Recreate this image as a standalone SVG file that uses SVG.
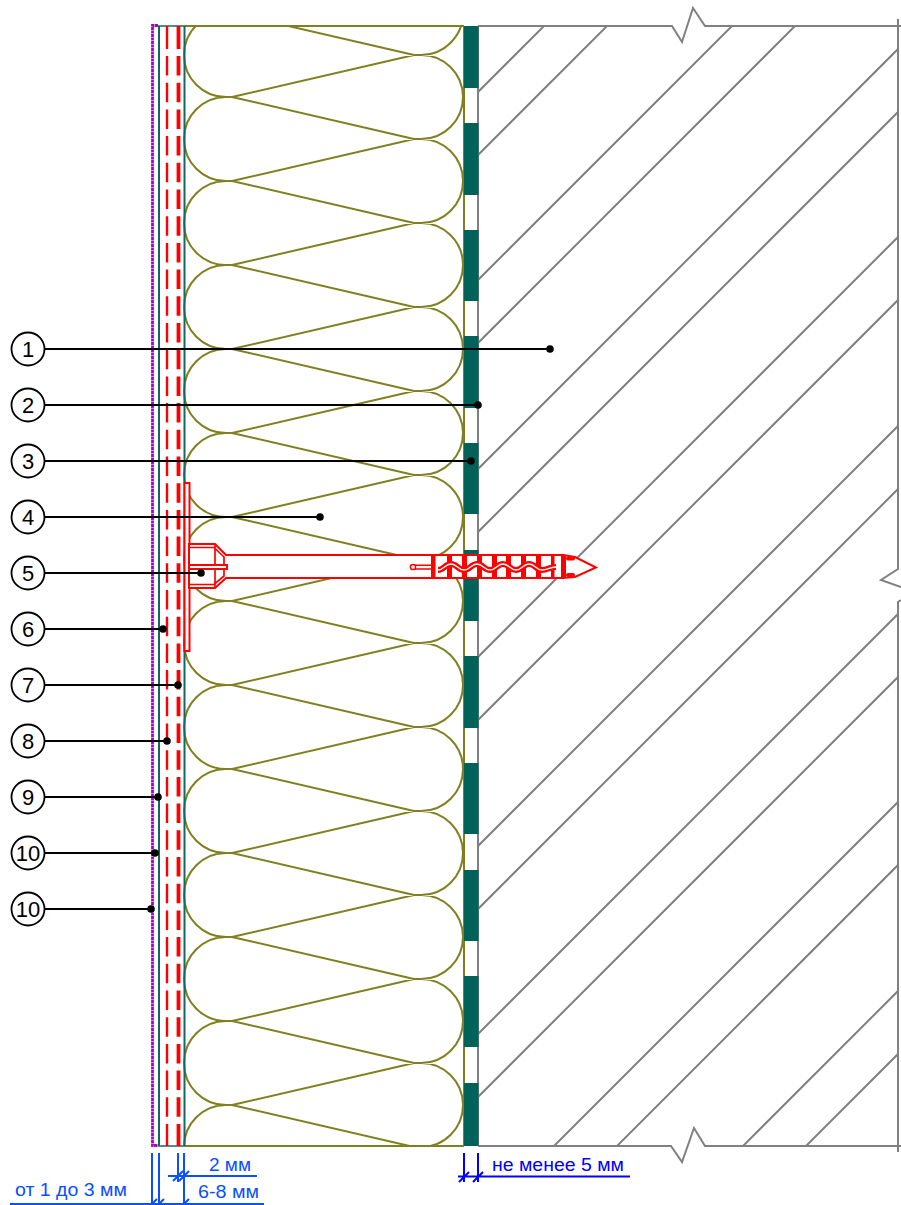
<svg xmlns="http://www.w3.org/2000/svg" width="901" height="1205" viewBox="0 0 901 1205">
<style>
text{font-family:"Liberation Sans",Arial,sans-serif}
.g{fill:none;stroke:#808080;stroke-width:2}
.o{fill:none;stroke:#808020;stroke-width:2}
.t{fill:none;stroke:#106a62;stroke-width:2}
.r{fill:#fff;stroke:#ff0000;stroke-width:2}
.rf{fill:#ff0000}
.ld{stroke:#000;stroke-width:2;fill:none}
.dot{fill:#000}
.c{fill:#fff;stroke:#000;stroke-width:1.800}
.n{font-size:22px;text-anchor:middle;fill:#000}
.b1{stroke:#0a50ff;stroke-width:2;fill:none}
.b2{stroke:#0000ff;stroke-width:2;fill:none}
.tb1{font-size:18px;fill:#0a50ff}
.tb2{font-size:18px;fill:#0000ff}
.bd{fill:#00635a}
</style>
<defs>
<clipPath id="ci"><rect x="180" y="26" width="284" height="1120"/></clipPath>
<clipPath id="ch"><rect x="478" y="26" width="420" height="1120"/></clipPath>
</defs>

<g id="hatch" clip-path="url(#ch)" class="g">
<path d="M570 0L470 100M633 0L470 163M758 0L470 288M821 0L470 351M947 0L470 477M1010 0L470 540M1135 0L470 665M1198 0L470 728M1324 0L470 854M1387 0L470 917M1512 0L470 1042M1575 0L470 1105M1700 0L470 1230M1763 0L470 1293M1889 0L600 1289M1952 0L663 1289"/>
</g>
<g id="wall" class="g">
<path d="M478 26H672L682 42L693 8L705 26H901"/>
<path d="M478 1146H671L682 1162L694 1128L705 1146H901"/>
<path d="M898 19V569L881 580L901 587"/>
<path d="M901 600L898 602V1152"/>
<path d="M478 26V1146"/>
</g>

<g id="insulation">
<g clip-path="url(#ci)">
<path class="o" d="
M232 13H226A42 42 0 0 0 226 97H232L414 55H421A42 42 0 0 0 421 -29H414L232 13L414 55
M232 97H226A42 42 0 0 0 226 181H232L414 139H421A42 42 0 0 0 421 55H414L232 97L414 139
M232 181H226A42 42 0 0 0 226 265H232L414 223H421A42 42 0 0 0 421 139H414L232 181L414 223
M232 265H226A42 42 0 0 0 226 349H232L414 307H421A42 42 0 0 0 421 223H414L232 265L414 307
M232 349H226A42 42 0 0 0 226 433H232L414 391H421A42 42 0 0 0 421 307H414L232 349L414 391
M232 433H226A42 42 0 0 0 226 517H232L414 475H421A42 42 0 0 0 421 391H414L232 433L414 475
M232 517H226A42 42 0 0 0 226 601H232L414 559H421A42 42 0 0 0 421 475H414L232 517L414 559
M232 601H226A42 42 0 0 0 226 685H232L414 643H421A42 42 0 0 0 421 559H414L232 601L414 643
M232 685H226A42 42 0 0 0 226 769H232L414 727H421A42 42 0 0 0 421 643H414L232 685L414 727
M232 769H226A42 42 0 0 0 226 853H232L414 811H421A42 42 0 0 0 421 727H414L232 769L414 811
M232 853H226A42 42 0 0 0 226 937H232L414 895H421A42 42 0 0 0 421 811H414L232 853L414 895
M232 937H226A42 42 0 0 0 226 1021H232L414 979H421A42 42 0 0 0 421 895H414L232 937L414 979
M232 1021H226A42 42 0 0 0 226 1105H232L414 1063H421A42 42 0 0 0 421 979H414L232 1021L414 1063
M232 1105H226A42 42 0 0 0 226 1189H232L414 1147H421A42 42 0 0 0 421 1063H414L232 1105L414 1147"/>
</g>
<path class="o" d="M184 26H464M184 1146H464M464 26V1146"/>
</g>

<g id="air-gap-bands" class="bd">
<rect x="464" y="26" width="14.500" height="62"/>
<rect x="464" y="123" width="14.500" height="72"/>
<rect x="464" y="230" width="14.500" height="71"/>
<rect x="464" y="336" width="14.500" height="72"/>
<rect x="464" y="443" width="14.500" height="71"/>
<rect x="464" y="550" width="14.500" height="71"/>
<rect x="464" y="656" width="14.500" height="72"/>
<rect x="464" y="763" width="14.500" height="71"/>
<rect x="464" y="870" width="14.500" height="71"/>
<rect x="464" y="976" width="14.500" height="71"/>
<rect x="464" y="1083" width="14.500" height="63"/>
</g>

<g id="layers">
<path d="M158 26H184M158 1146H184" style="fill:none;stroke:#4f8f8a;stroke-width:2"/>
<path class="t" d="M159 26V1146M184.500 26V1146"/>
<path d="M158 25.500H152.500V1145.500H158" style="fill:none;stroke:#b000c4;stroke-width:2.800;stroke-dasharray:3 .5"/>
<path d="M167 26V49M167 1124V1146" style="fill:none;stroke:#ff0000;stroke-width:2.400"/>
<path d="M167 56V1118" style="fill:none;stroke:#ff0000;stroke-width:2.400;stroke-dasharray:19.500 7.200"/>
<path d="M178.500 26V49M178.500 1124V1146" style="fill:none;stroke:#ff0000;stroke-width:3.800"/>
<path d="M178.500 56V1118" style="fill:none;stroke:#ff0000;stroke-width:3.800;stroke-dasharray:19.500 7.200"/>
</g>

<g id="dowel">
<rect class="r" x="184.500" y="483" width="5" height="168"/>
<path class="r" d="M189 544H215L226 555H432V578H226L215 588H189Z"/>
<path d="M189 547.500H214L224 557V576L214 584.500H189M215 545V587" style="fill:none;stroke:#ff0000;stroke-width:1.700"/>
<rect class="r" x="189" y="565" width="38" height="4"/>
<rect class="r" x="432" y="555" width="131" height="23"/>
<path class="r" d="M563 555L575 557L596 567.500L575 577L563 578Z"/>
<g class="rf">
<rect x="432" y="555" width="3.500" height="23"/><rect x="447" y="555" width="5" height="23"/><rect x="462" y="555" width="5" height="23"/><rect x="477" y="555" width="5" height="23"/><rect x="492" y="555" width="5" height="23"/><rect x="506" y="555" width="5" height="23"/><rect x="521" y="555" width="5" height="23"/><rect x="536" y="555" width="5" height="23"/><rect x="551" y="555" width="3.500" height="23"/><rect x="561" y="555" width="5" height="23"/>
<rect x="566" y="556.500" width="9" height="4" rx="2"/><rect x="566" y="573" width="9" height="4" rx="2"/>
</g>
<path d="M438 570C444 570 445 564 451 564S458 570 464 570S471 564 477 564S484 570 490 570S497 564 503 564S510 570 516 570S523 564 529 564S536 570 542 570S549 567 556 567" style="fill:none;stroke:#ff0000;stroke-width:6"/>
<path d="M438 570C444 570 445 564 451 564S458 570 464 570S471 564 477 564S484 570 490 570S497 564 503 564S510 570 516 570S523 564 529 564S536 570 542 570S549 567 556 567" style="fill:none;stroke:#fff;stroke-width:1.300"/>
<path d="M413 565.300H433M413 569H433" style="fill:none;stroke:#ff0000;stroke-width:1.500"/>
<circle cx="413" cy="567" r="2.600" style="fill:#fff;stroke:#ff0000;stroke-width:1.500"/>
</g>

<g id="connectors">
<path class="ld" d="M45 349H550M45 405H478M45 461H471M45 517H320M45 573H201M45 629H163M45 685H178M45 741H167M45 797H158M45 853H155M45 909H151"/>
<g class="dot">
<circle cx="550" cy="349" r="3.800"/><circle cx="478" cy="405" r="3.800"/><circle cx="471" cy="461" r="3.800"/><circle cx="320" cy="517" r="3.800"/><circle cx="201" cy="573" r="3.800"/><circle cx="163" cy="629" r="3.800"/><circle cx="178" cy="685" r="3.800"/><circle cx="167" cy="741" r="3.800"/><circle cx="158" cy="797" r="3.800"/><circle cx="155" cy="853" r="3.800"/><circle cx="151" cy="909" r="3.800"/>
</g>
</g>

<g id="n1"><circle class="c" cx="28" cy="349" r="16.500"/><text class="n" x="28" y="357">1</text></g>
<g id="n2"><circle class="c" cx="28" cy="405" r="16.500"/><text class="n" x="28" y="413">2</text></g>
<g id="n3"><circle class="c" cx="28" cy="461" r="16.500"/><text class="n" x="28" y="469">3</text></g>
<g id="n4"><circle class="c" cx="28" cy="517" r="16.500"/><text class="n" x="28" y="525">4</text></g>
<g id="n5"><circle class="c" cx="28" cy="573" r="16.500"/><text class="n" x="28" y="581">5</text></g>
<g id="n6"><circle class="c" cx="28" cy="629" r="16.500"/><text class="n" x="28" y="637">6</text></g>
<g id="n7"><circle class="c" cx="28" cy="685" r="16.500"/><text class="n" x="28" y="693">7</text></g>
<g id="n8"><circle class="c" cx="28" cy="741" r="16.500"/><text class="n" x="28" y="749">8</text></g>
<g id="n9"><circle class="c" cx="28" cy="797" r="16.500"/><text class="n" x="28" y="805">9</text></g>
<g id="n10a"><circle class="c" cx="28" cy="853" r="16.500"/><text class="n" x="28" y="861">10</text></g>
<g id="n10b"><circle class="c" cx="28" cy="909" r="16.500"/><text class="n" x="28" y="917">10</text></g>

<g id="dims">
<path class="b1" d="M10 1204H264M168 1176H257M152 1153V1204M159 1153V1204M178 1153V1182M184 1153V1204"/>
<path class="b1" d="M147 1209L157 1199M154 1209L164 1199M173 1181L183 1171M179 1181L189 1171M179 1209L189 1199"/>
<text class="tb1" x="15" y="1196" textLength="112" lengthAdjust="spacingAndGlyphs">от 1 до 3 мм</text>
<text class="tb1" x="209" y="1171" textLength="42" lengthAdjust="spacingAndGlyphs">2 мм</text>
<text class="tb1" x="198" y="1198" textLength="61" lengthAdjust="spacingAndGlyphs">6-8 мм</text>
<path class="b2" d="M458 1176.500H630M464 1153V1182M478 1153V1182M459 1182L469 1172M473 1182L483 1172"/>
<text class="tb2" x="492" y="1171" textLength="132" lengthAdjust="spacingAndGlyphs">не менее 5 мм</text>
</g>
</svg>
